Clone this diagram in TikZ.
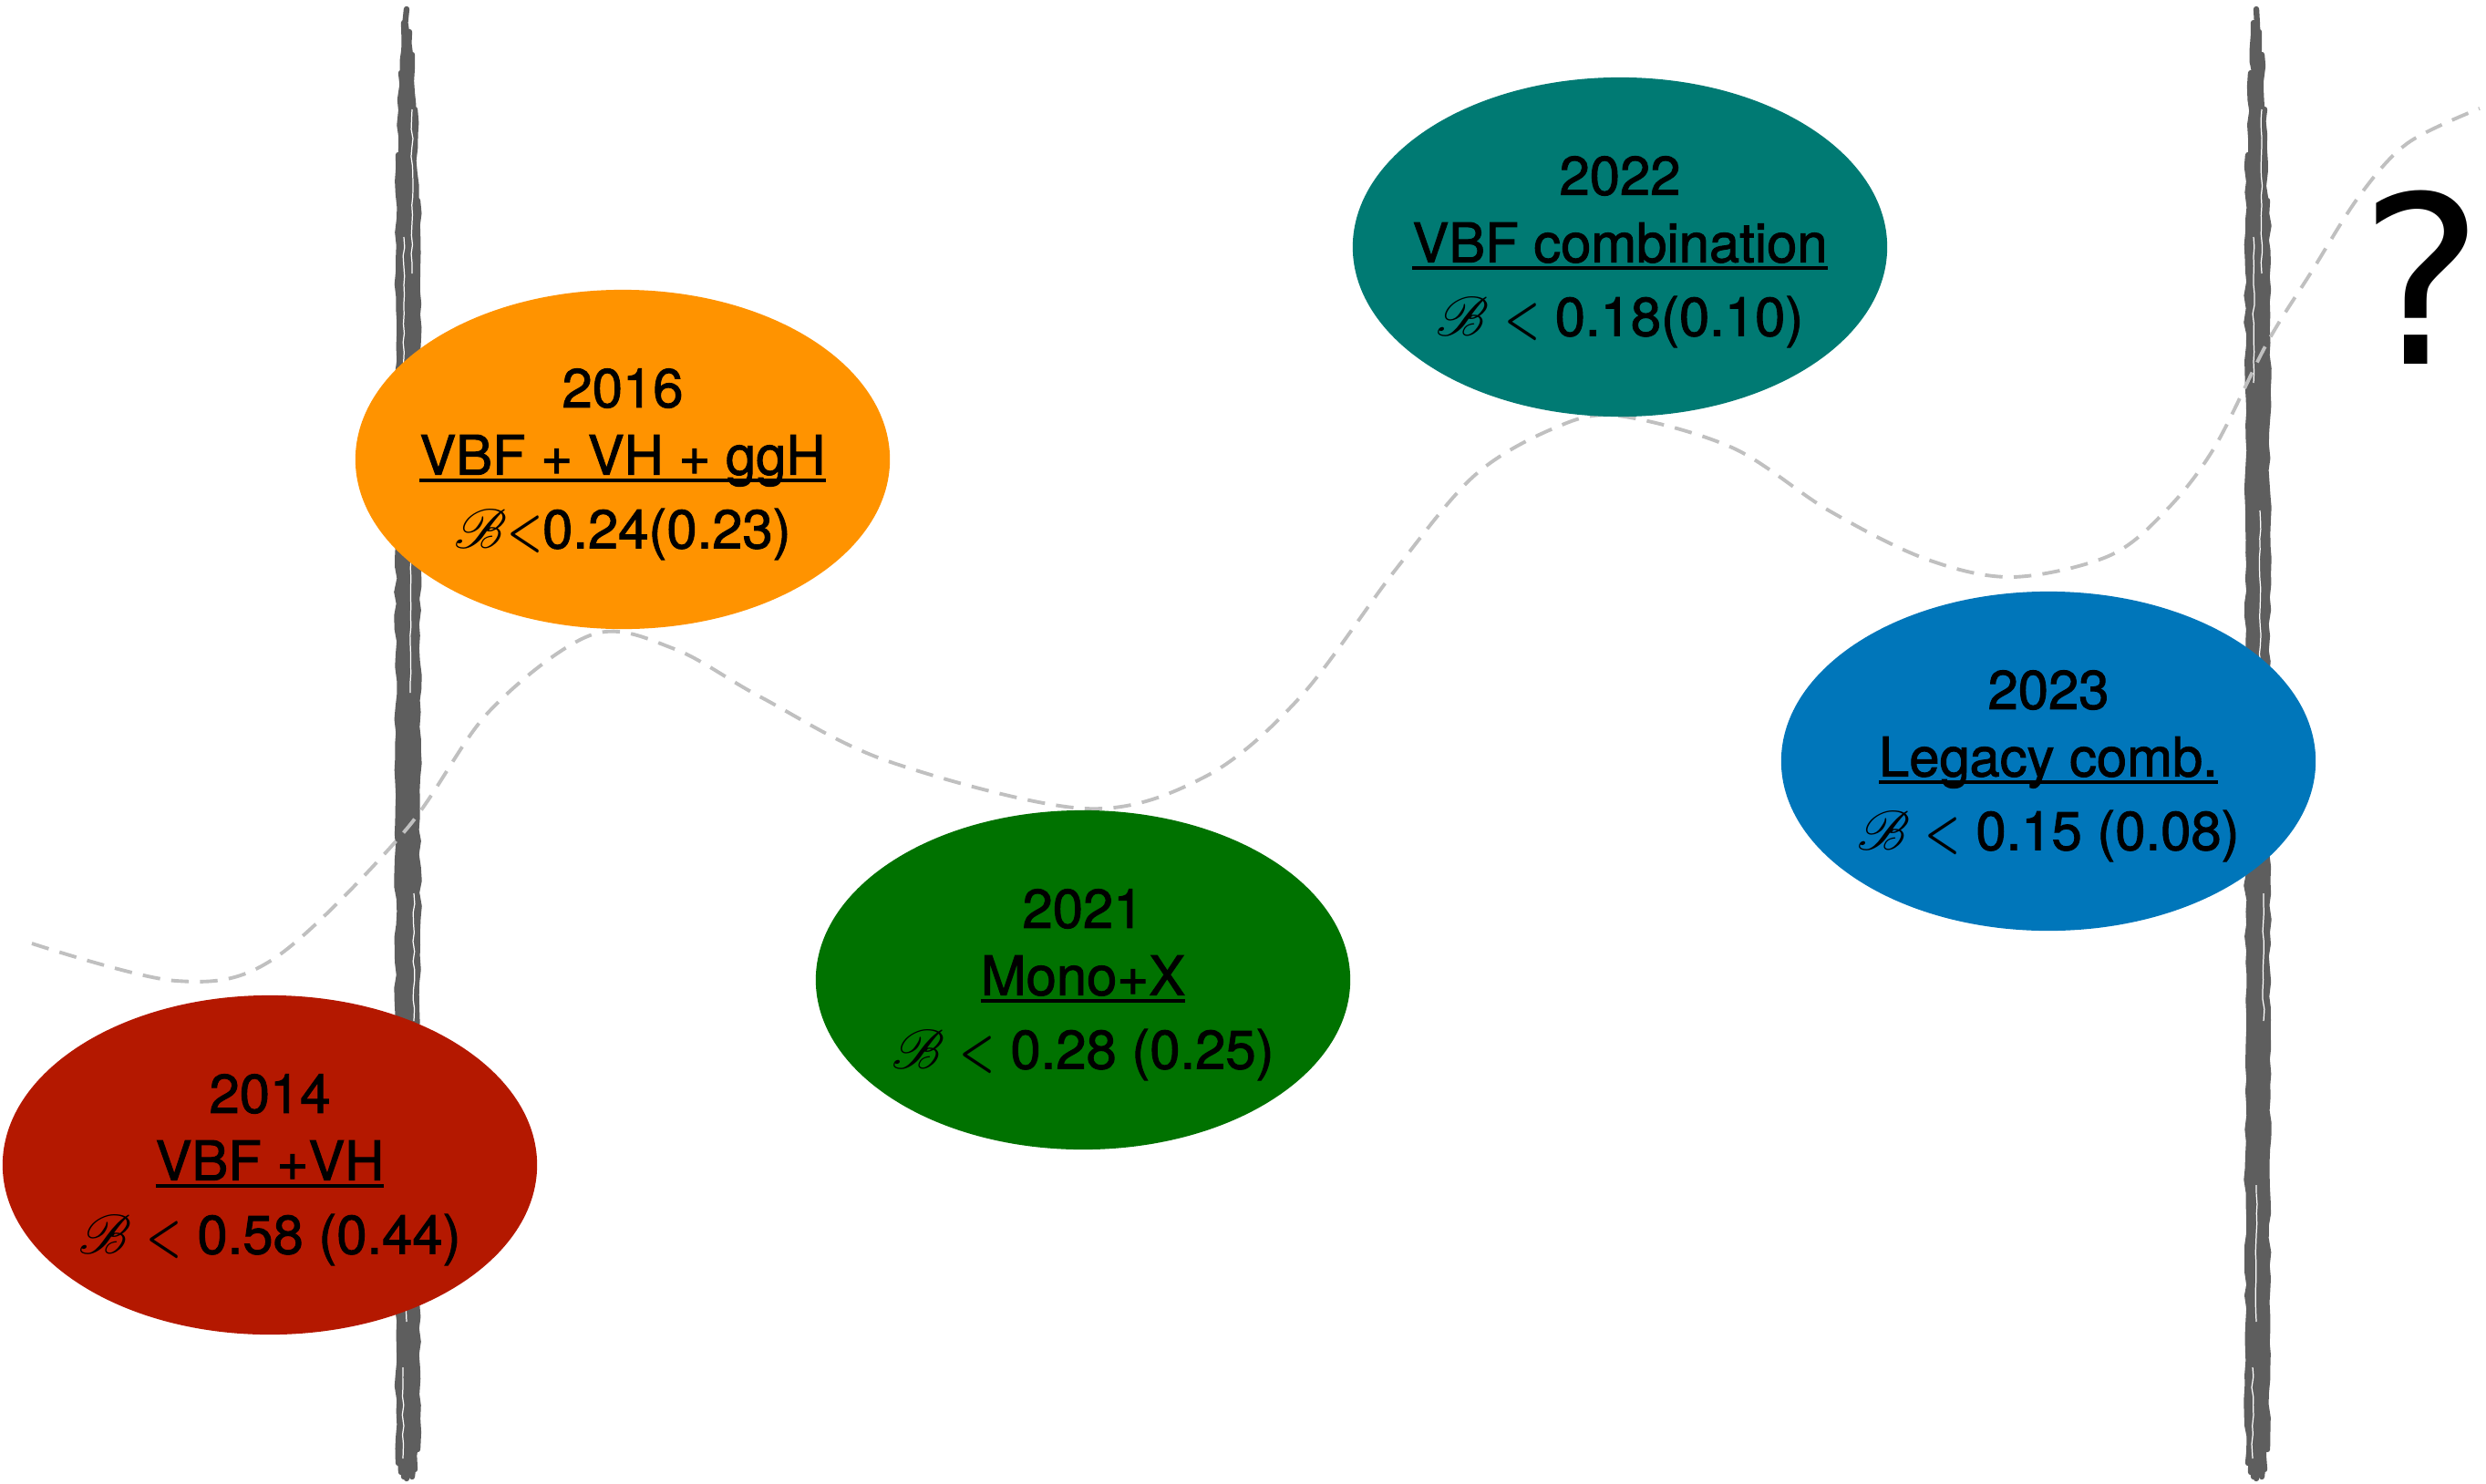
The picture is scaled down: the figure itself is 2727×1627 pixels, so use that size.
\documentclass[tikz,border=0pt]{standalone}
\usepackage{fontspec}
\usepackage{mathrsfs}
\usepackage{graphicx}
\usepackage{tikz}
\newfontfamily\erafont{TeX Gyre Heros}[FakeBold=1.6]
\newfontfamily\qfont{DejaVu Sans}
\usetikzlibrary{shapes.geometric}
\usetikzlibrary{decorations.pathmorphing}
\usetikzlibrary{positioning}
\newcommand{\ulined}[1]{\setbox0\hbox{#1}\rlap{\rule[-2.4pt]{\wd0}{1.2pt}}\box0}
\newcommand{\brat}{{\fontsize{19}{21}\selectfont$\mathscr{B}$}}
\newcommand{\erless}{\scalebox{0.72}[1]{\boldmath$<$}}
\tikzset{era/.style = {ellipse, minimum width=5.86cm, minimum height=3.72cm, inner sep=0}}
\tikzset{eratext/.style = {align=center, inner sep=0, yshift=-1.5pt,
                           font=\erafont\fontsize{17}{21}\selectfont}}
\tikzset{barstroke/.style = {draw=bargray, line width=1.8pt, line cap=round, decorate,
                             decoration={random steps, segment length=4pt, amplitude=0.45pt}}}
\tikzset{barstreak/.style = {draw=white, line width=0.35pt, decorate,
                             decoration={random steps, segment length=3pt, amplitude=0.3pt}}}
\tikzset{trend/.style = {draw=curvegray, line width=1.1pt, dash pattern=on 5.5pt off 3.5pt}}
\definecolor{mred}{RGB}{180, 24, 0}
\definecolor{morange}{RGB}{255, 147, 0}
\definecolor{mgreen}{RGB}{0, 114, 0}
\definecolor{mteal}{RGB}{0, 122, 115}
\definecolor{mblue}{RGB}{0, 118, 186}
\definecolor{bargray}{RGB}{94, 94, 94}
\definecolor{curvegray}{RGB}{192, 192, 192}

\begin{document}
\begin{tikzpicture}[x=0.01cm, y=-0.01cm]
    \useasboundingbox (0, 0) rectangle (2727, 1627);
    \pgfmathsetseed{7}

    % brush bars
    \foreach \bx in {448, 2477} {
      \foreach \dx/\ytop/\ybot in {-11/170/1605, -8/80/1615, -5/25/1620, -2/10/1622,
                                   1/35/1618, 4/60/1620, 7/120/1612, 10/220/1590}
        \draw [barstroke] (\bx+\dx, \ytop) -- (\bx+\dx, \ybot);
      \foreach \dx/\ytop/\ybot in {-5/260/420, 2/560/760, 6/980/1120, -2/1300/1450, 4/120/300, -6/1500/1600}
        \draw [barstreak] (\bx+\dx, \ytop) -- (\bx+\dx, \ybot);
    }

    \draw [trend] plot [smooth, tension=0.55] coordinates {(35, 1035) (193, 1076) (300, 1052) (443, 913)
      (537, 780) (650, 696) (740, 712) (835, 765) (974, 835) (1190, 887) (1322, 852) (1426, 765)
      (1530, 626) (1617, 522) (1704, 470) (1774, 456) (1900, 491) (2006, 560) (2112, 613) (2207, 633)
      (2313, 610) (2376, 560) (2429, 491) (2487, 376) (2535, 299) (2588, 215) (2641, 157) (2720, 119)};

    \node [era, fill=mred] (y2014) at (296, 1278) {};
    \node [eratext] (t2014) at (y2014.center)
      {2014\\ \ulined{VBF +VH}\\[2pt] \brat{} \erless{} 0.58 (0.44)};
    \node [era, fill=morange] (y2016) at (683, 504) {};
    \node [eratext] (t2016) at (y2016.center)
      {2016\\ \ulined{VBF + VH + ggH}\\[2pt] \brat\erless0.24(0.23)};
    \node [era, fill=mgreen] (y2021) at (1188, 1075) {};
    \node [eratext] (t2021) at (y2021.center)
      {2021\\ \ulined{Mono+X}\\[2pt] \brat{} \erless{} 0.28 (0.25)};
    \node [era, fill=mteal] (y2022) at (1777, 271) {};
    \node [eratext] (t2022) at (y2022.center)
      {2022\\ \ulined{VBF combination}\\[2pt] \brat{} \erless{} 0.18(0.10)};
    \node [era, fill=mblue] (y2023) at (2247, 835) {};
    \node [eratext] (t2023) at (y2023.center)
      {2023\\ \ulined{Legacy comb.}\\[2pt] \brat{} \erless{} 0.15 (0.08)};

    \node [anchor=base, inner sep=0, font=\qfont\fontsize{73}{80}\selectfont] (next) at (2657, 399) {?};
  \end{tikzpicture}
\end{document}
